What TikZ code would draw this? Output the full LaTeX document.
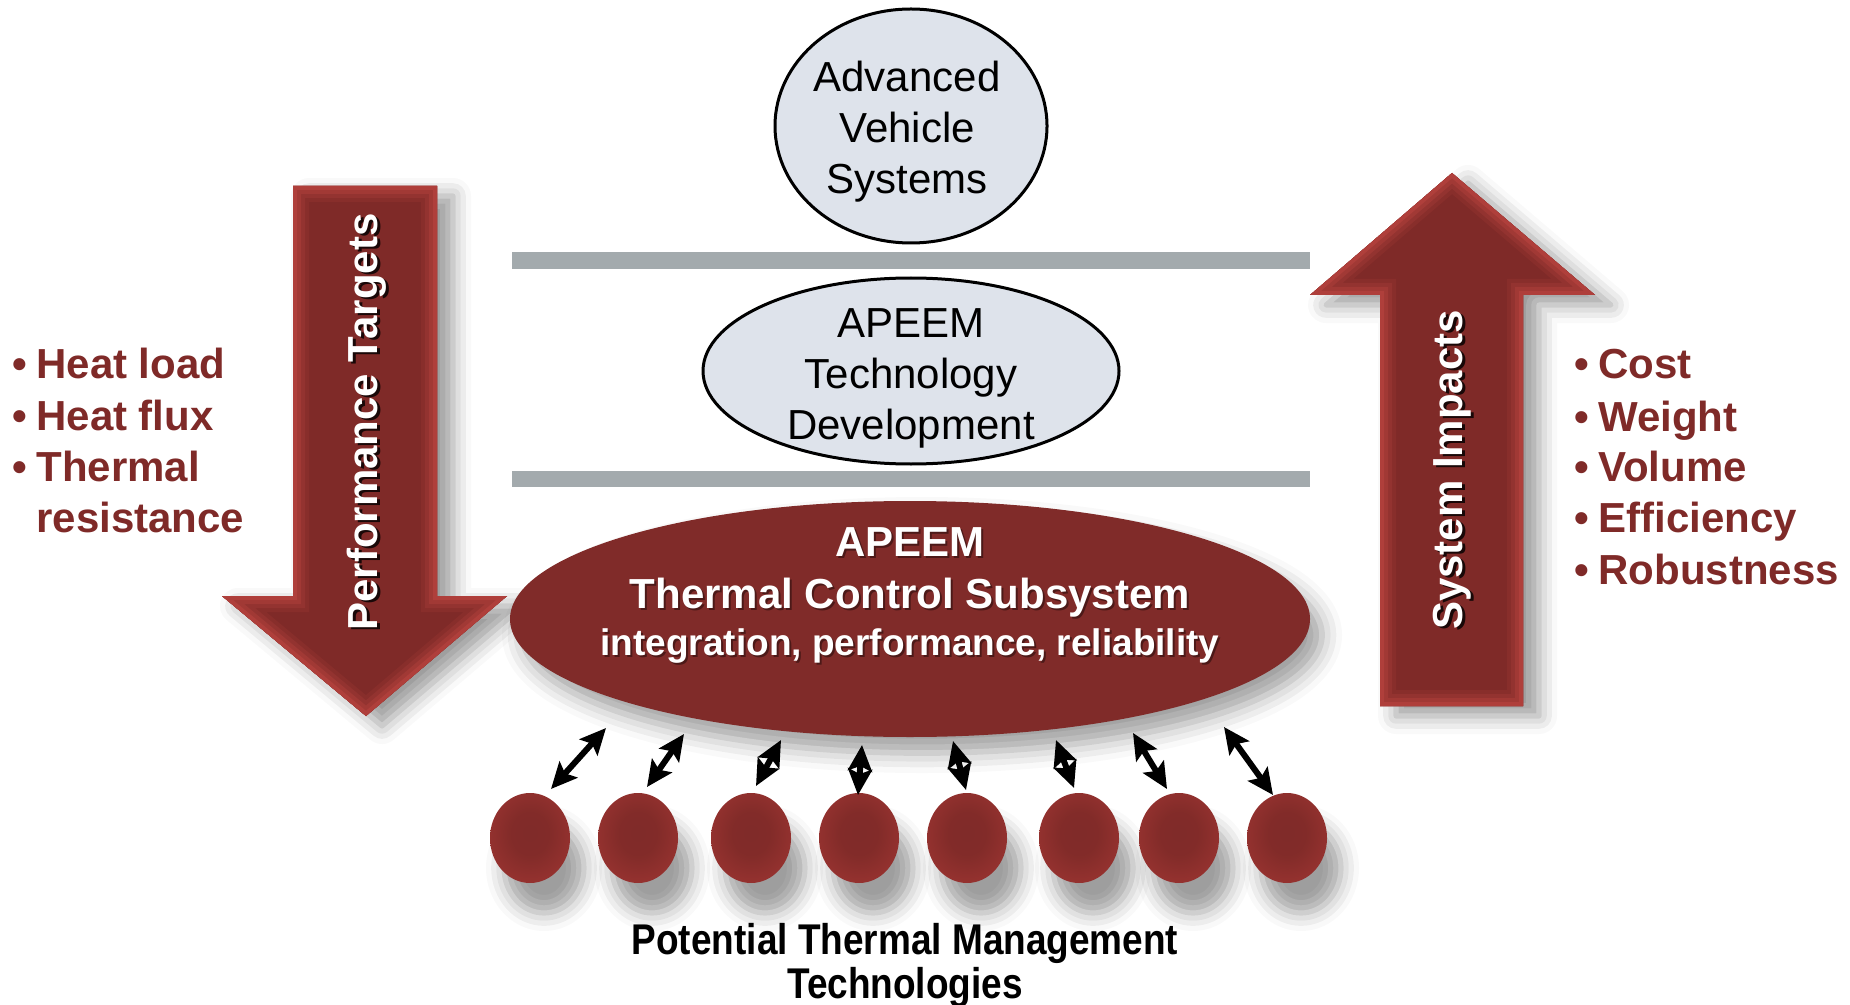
\documentclass[tikz,border=0pt]{standalone}
\usepackage{fontspec}
\setmainfont{Liberation Sans}
\newfontfamily\condfont[FakeStretch=0.86]{Liberation Sans}
\usetikzlibrary{arrows.meta,shapes.geometric,shadows.blur}
\definecolor{dred}{HTML}{7F2A28}
\definecolor{lred}{HTML}{B8433E}
\definecolor{gbar}{HTML}{A3AAAD}
\definecolor{gfill}{HTML}{DEE3EB}
\pgfdeclareradialshading{redell}{\pgfpoint{0bp}{0bp}}{rgb(0bp)=(0.50,0.17,0.16); rgb(36bp)=(0.50,0.17,0.16); rgb(45bp)=(0.58,0.19,0.18); rgb(50bp)=(0.72,0.27,0.25); rgb(70bp)=(0.72,0.27,0.25)}
\pgfdeclareradialshading{redball}{\pgfpoint{0bp}{3bp}}{rgb(0bp)=(0.50,0.17,0.16); rgb(12bp)=(0.51,0.17,0.16); rgb(30bp)=(0.60,0.20,0.19); rgb(42bp)=(0.68,0.23,0.22); rgb(50bp)=(0.74,0.27,0.25); rgb(70bp)=(0.74,0.27,0.25)}
\newcommand{\bevelarrow}[1]{%
  \fill[dred, arrowshadow] #1;
  \begin{scope}
    \clip #1;
    \draw[line width=16pt, color=dred!85!lred, line join=miter] #1;
    \draw[line width=12pt, color=dred!65!lred, line join=miter] #1;
    \draw[line width=8pt, color=dred!40!lred, line join=miter] #1;
    \draw[line width=4pt, color=dred!15!lred, line join=miter] #1;
  \end{scope}}
\tikzset{
  arrowshadow/.style={blur shadow={shadow xshift=8pt, shadow yshift=-5pt, shadow blur radius=9pt, shadow opacity=40}},
  ballshadow/.style={blur shadow={shadow xshift=7pt, shadow yshift=-15pt, shadow blur radius=9pt, shadow opacity=38}},
  ellshadow/.style={blur shadow={shadow xshift=6pt, shadow yshift=-8pt, shadow blur radius=10pt, shadow opacity=38}},
  listtxt/.style={anchor=base west, inner sep=0pt, text=dred, font=\fontsize{21pt}{25.5pt}\selectfont\bfseries},
  grayell/.style={ellipse, draw=black, line width=1.5pt, fill=gfill, inner sep=0pt},
  graytxt/.style={align=center, inner sep=0pt, font=\fontsize{21pt}{25.5pt}\selectfont},
  ball/.style={ellipse, shading=redball, inner sep=0pt, minimum width=40pt, minimum height=45pt, ballshadow},
  rottxt/.style={rotate=90, inner sep=0pt, font=\fontsize{21pt}{25pt}\selectfont\bfseries},
  tcsbig/.style={anchor=base, inner sep=0pt, font=\fontsize{21pt}{26pt}\selectfont\bfseries},
  tcssmall/.style={anchor=base, inner sep=0pt, font=\fontsize{18.5pt}{24pt}\selectfont\bfseries},
  bar/.style={fill=gbar},
  dbl/.style={{Stealth[length=13pt,width=12pt,inset=2.5pt]}-{Stealth[length=13pt,width=12pt,inset=2.5pt]}, line width=3pt, black},
}
\begin{document}
\begin{tikzpicture}[x=0.5pt,y=-0.5pt]
\useasboundingbox (0,0) rectangle (1850,1005);

% gray bars
\fill[bar] (512,252) rectangle (1310,269);
\fill[bar] (512,471) rectangle (1310,487);

% top ellipses
\node[grayell, minimum width=136pt, minimum height=117pt] (avs) at (911,126) {};
\node[graytxt] (avstext) at (907,132) {Advanced\\Vehicle\\Systems};
\node[grayell, minimum width=208pt, minimum height=93pt] (ptd) at (911,371) {};
\node[graytxt] (ptdtext) at (911,378) {APEEM\\Technology\\Development};

% arrows
\bevelarrow{(293,186) -- (437,186) -- (437,596) -- (507,596) -- (366,716) -- (222,596) -- (293,596) -- cycle}
\bevelarrow{(1380,706) -- (1523,706) -- (1523,295) -- (1595,295) -- (1452,173) -- (1310,295) -- (1380,295) -- cycle}

\node[rottxt, text=black, opacity=0.8] (ptshadow) at (370,424) {Performance Targets};
\node[rottxt, text=white] (pt) at (367,422) {Performance Targets};
\node[rottxt, text=black, opacity=0.8] (sishadow) at (1455,472) {System Impacts};
\node[rottxt, text=white] (si) at (1452,470) {System Impacts};

% thermal control subsystem ellipse
\node[ellipse, shading=redell, inner sep=0pt, ellshadow, minimum width=400pt, minimum height=118pt] (tcs) at (910,619) {};
\node[tcsbig, text=black, opacity=0.4] (tcs1s) at (912,558) {APEEM};
\node[tcsbig, text=black, opacity=0.4] (tcs2s) at (912,610) {Thermal Control Subsystem};
\node[tcssmall, text=black, opacity=0.4] (tcs3s) at (912,657) {integration, performance, reliability};
\node[tcsbig, text=white] (tcs1) at (910,556) {APEEM};
\node[tcsbig, text=white] (tcs2) at (910,608) {Thermal Control Subsystem};
\node[tcssmall, text=white] (tcs3) at (910,655) {integration, performance, reliability};

% technology balls
\node[ball] (t1) at (530,838) {};
\node[ball] (t2) at (638,838) {};
\node[ball] (t3) at (751,838) {};
\node[ball] (t4) at (859,838) {};
\node[ball] (t5) at (967,838) {};
\node[ball] (t6) at (1079,838) {};
\node[ball] (t7) at (1179,838) {};
\node[ball] (t8) at (1287,838) {};

% double arrows
\coordinate (b1) at (551,789); \coordinate (e1) at (606,728);
\coordinate (b2) at (647,787); \coordinate (e2) at (684,734);
\coordinate (b3) at (756,786); \coordinate (e3) at (781,740);
\coordinate (b4) at (858,795); \coordinate (e4) at (862,745);
\coordinate (b5) at (966,790); \coordinate (e5) at (953,741);
\coordinate (b6) at (1074,788); \coordinate (e6) at (1056,740);
\coordinate (b7) at (1167,789); \coordinate (e7) at (1133,733);
\coordinate (b8) at (1273,795); \coordinate (e8) at (1224,727);
\foreach \i in {1,...,8} { \draw[dbl] (b\i) -- (e\i); }

% lists
\node[listtxt] (l1) at (12,379) {•\hspace{0.22em}Heat load};
\node[listtxt] (l2) at (12,430) {•\hspace{0.22em}Heat flux};
\node[listtxt] (l3) at (12,481) {•\hspace{0.22em}Thermal};
\node[listtxt] (l4) at (36,532) {resistance};

\node[listtxt] (r1) at (1574,379) {•\hspace{0.22em}Cost};
\node[listtxt] (r2) at (1574,431) {•\hspace{0.22em}Weight};
\node[listtxt] (r3) at (1574,481) {•\hspace{0.22em}Volume};
\node[listtxt] (r4) at (1574,532) {•\hspace{0.22em}Efficiency};
\node[listtxt] (r5) at (1574,584) {•\hspace{0.22em}Robustness};

% bottom label
\node[align=center, inner sep=0pt, font=\condfont\bfseries\fontsize{21.5pt}{22pt}\selectfont] (ptm) at (905,965) {Potential Thermal Management\\Technologies};
\end{tikzpicture}
\end{document}
